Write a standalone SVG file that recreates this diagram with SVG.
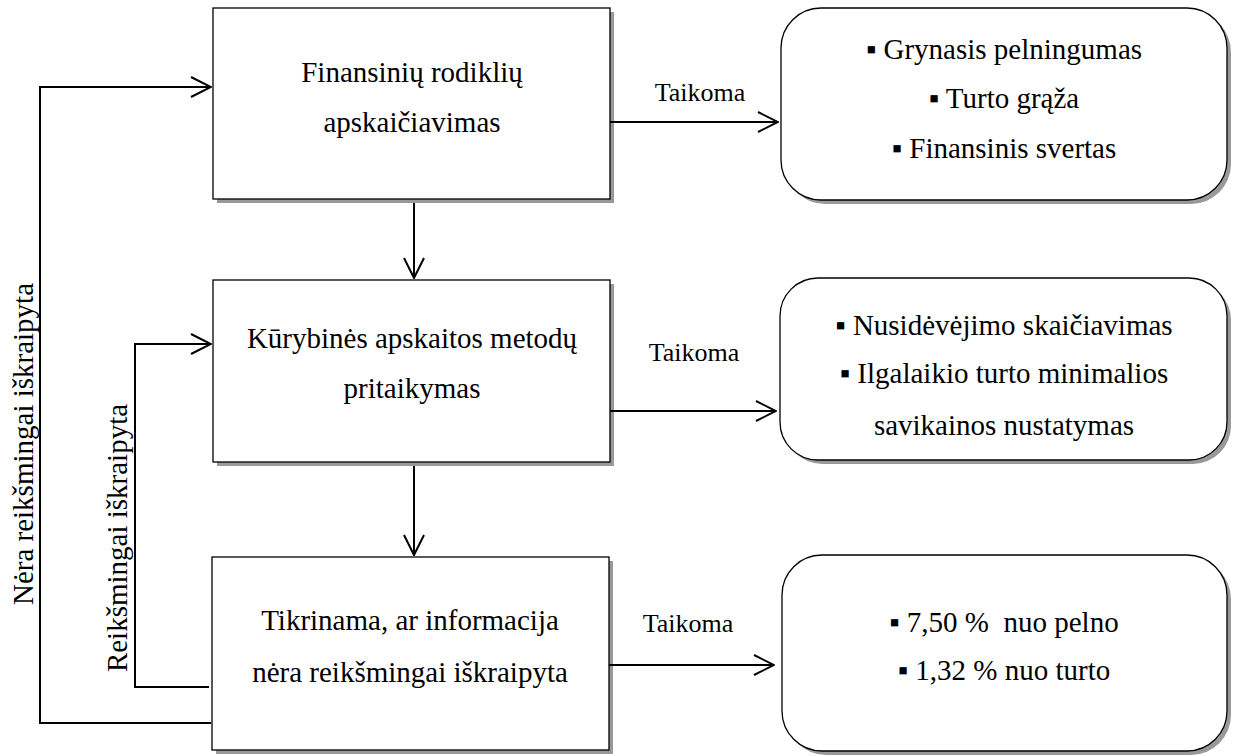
<svg xmlns="http://www.w3.org/2000/svg" width="1234" height="756" viewBox="0 0 1234 756">
<style>
text{font-family:"Liberation Serif","Times New Roman",Tinos,"Nimbus Roman","DejaVu Serif",serif;fill:#000;text-anchor:middle}
.t{font-size:29px}
.lbl{font-size:26px}
.pre{white-space:pre}
.box{fill:#fff;stroke:#000;stroke-width:1.3}
.sh{fill:#999;stroke:none}
.c{fill:none;stroke:#000;stroke-width:2}
</style>
<defs>
<marker id="ah" viewBox="0 0 22 22" refX="21" refY="11" markerWidth="22" markerHeight="22" markerUnits="userSpaceOnUse" orient="auto">
<path d="M1 1 L21 11 L1 21" fill="none" stroke="#000" stroke-width="2"/>
</marker>
</defs>
<rect width="1234" height="756" fill="#fff"/>
<g id="n1">
<rect class="sh" x="217" y="12" width="397" height="191"/>
<rect class="box" x="213" y="8" width="397" height="191"/>
<text class="t" x="412" y="82">Finansinių rodiklių</text>
<text class="t" x="412" y="132">apskaičiavimas</text>
</g>
<g id="n2">
<rect class="sh" x="217" y="284" width="397" height="182"/>
<rect class="box" x="213" y="280" width="397" height="182"/>
<text class="t" x="412" y="348">Kūrybinės apskaitos metodų</text>
<text class="t" x="412" y="398">pritaikymas</text>
</g>
<g id="n3">
<rect class="sh" x="216" y="561" width="397" height="193"/>
<rect class="box" x="212" y="557" width="397" height="193"/>
<text class="t" x="410" y="630">Tikrinama, ar informacija</text>
<text class="t" x="410" y="682">nėra reikšmingai iškraipyta</text>
</g>
<g id="nA">
<rect class="sh" x="785" y="12" width="446" height="192" rx="40"/>
<rect class="box" x="781" y="8" width="446" height="192" rx="40"/>
<text class="t" x="1004" y="59">▪ Grynasis pelningumas</text>
<text class="t" x="1004" y="108">▪ Turto grąža</text>
<text class="t" x="1004" y="158">▪ Finansinis svertas</text>
</g>
<g id="nB">
<rect class="sh" x="784" y="282" width="447" height="182" rx="38"/>
<rect class="box" x="780" y="278" width="447" height="182" rx="38"/>
<text class="t" x="1004" y="335">▪ Nusidėvėjimo skaičiavimas</text>
<text class="t" x="1004" y="383">▪ Ilgalaikio turto minimalios</text>
<text class="t" x="1004" y="435">savikainos nustatymas</text>
</g>
<g id="nC">
<rect class="sh" x="786" y="559" width="445" height="196" rx="40"/>
<rect class="box" x="782" y="555" width="445" height="196" rx="40"/>
<text class="t pre" x="1004" y="632" xml:space="preserve">▪ 7,50 %  nuo pelno</text>
<text class="t" x="1004" y="680">▪ 1,32 % nuo turto</text>
</g>
<g id="connectors">
<path class="c" d="M610 122 H778" marker-end="url(#ah)"/>
<path class="c" d="M610 411 H776" marker-end="url(#ah)"/>
<path class="c" d="M609 665 H774" marker-end="url(#ah)"/>
<path class="c" d="M414 203 V278" marker-end="url(#ah)"/>
<path class="c" d="M414 466 V555" marker-end="url(#ah)"/>
<path class="c" d="M211 723 H40 V87 H211" marker-end="url(#ah)"/>
<path class="c" d="M209 687 H135 V344 H211" marker-end="url(#ah)"/>
<text class="lbl" x="700" y="101">Taikoma</text>
<text class="lbl" x="694" y="361">Taikoma</text>
<text class="lbl" x="688" y="632">Taikoma</text>
<text class="t" transform="translate(33 444) rotate(-90)">Nėra reikšmingai iškraipyta</text>
<text class="t" transform="translate(127 538) rotate(-90)">Reikšmingai iškraipyta</text>
</g>
</svg>
